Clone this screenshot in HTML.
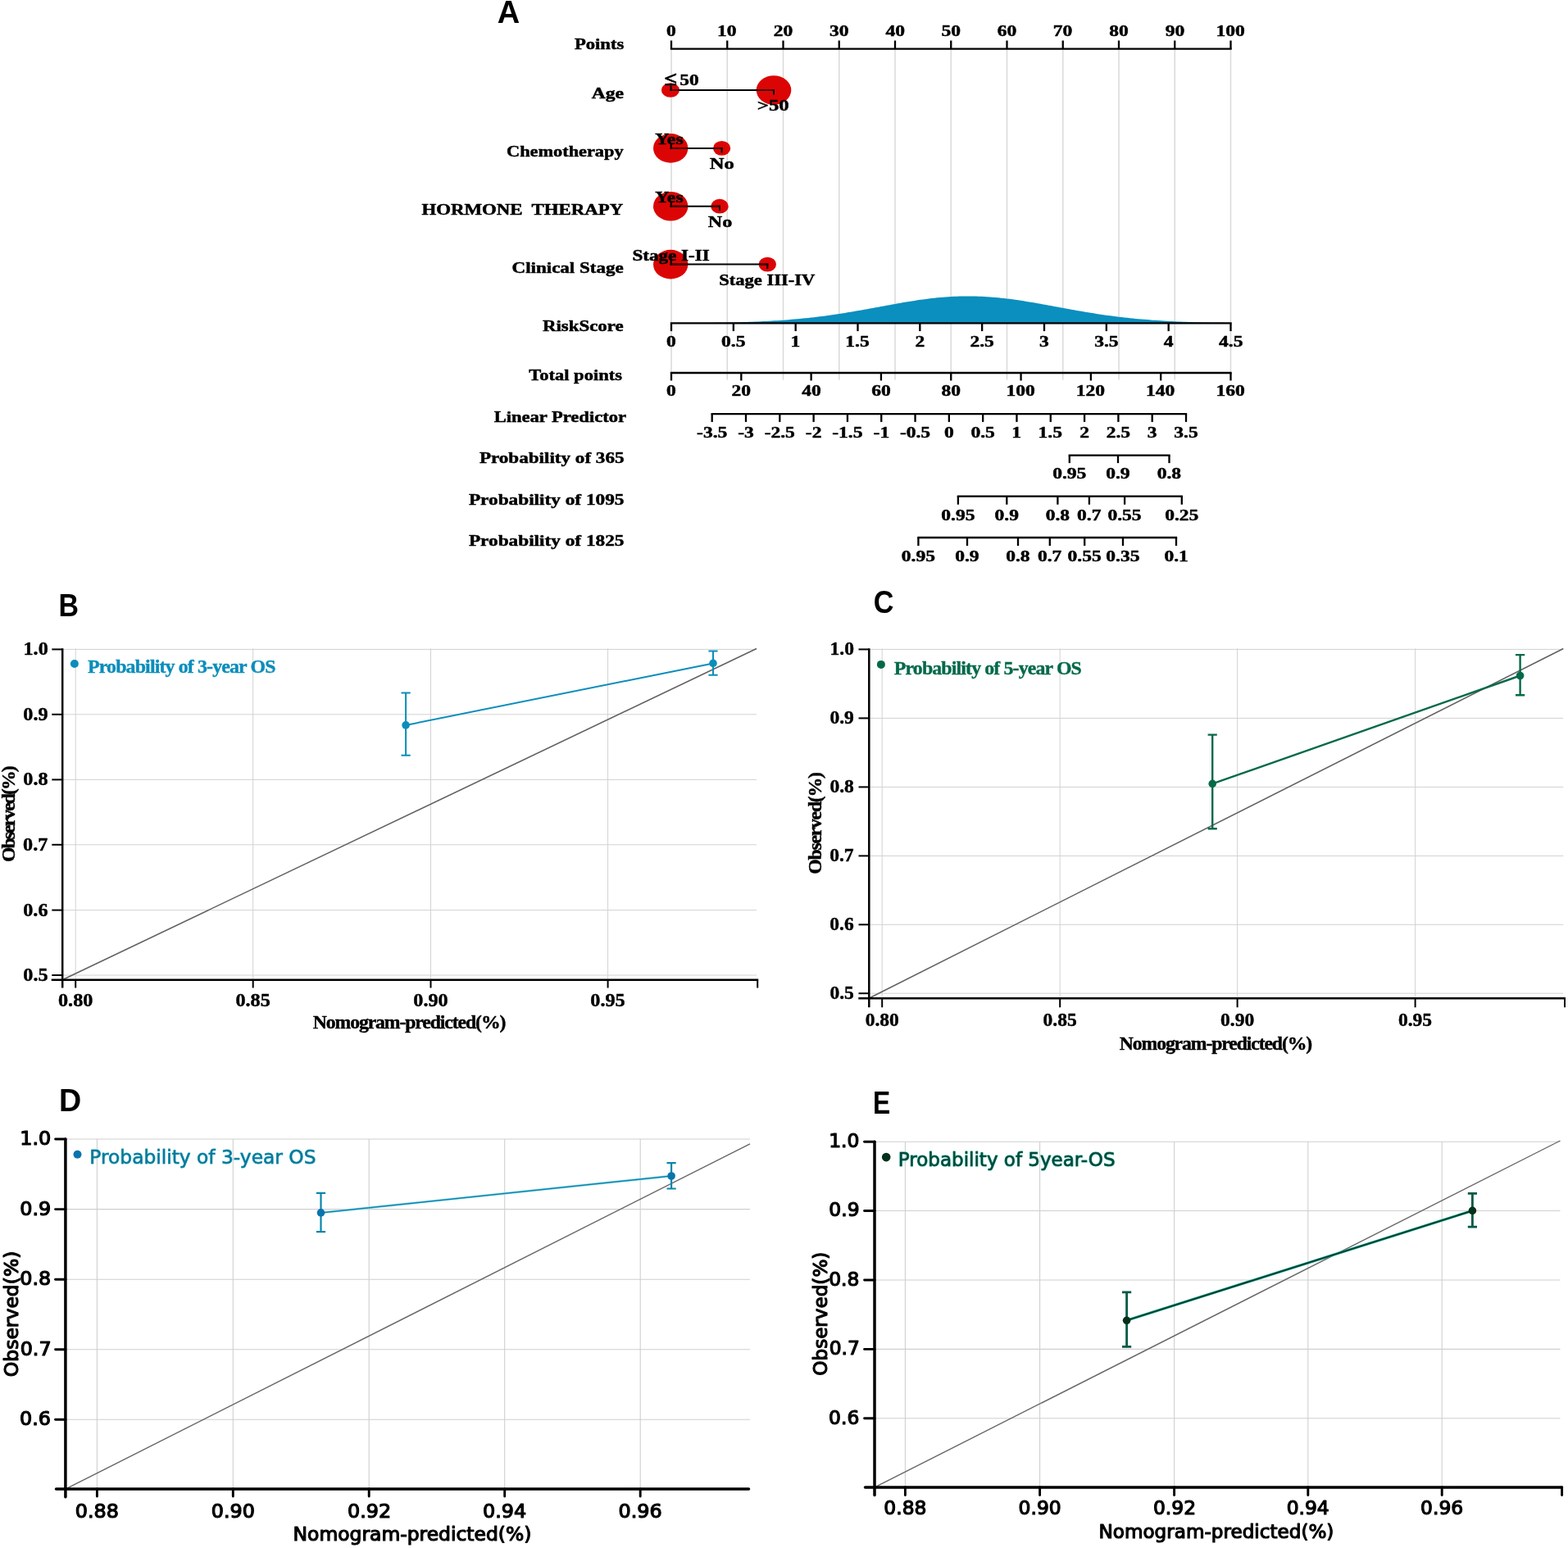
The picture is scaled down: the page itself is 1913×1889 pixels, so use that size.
<!DOCTYPE html>
<html lang="en">
<head>
<meta charset="utf-8">
<title>Nomogram and calibration curves</title>
<style>
html,body{margin:0;padding:0;background:#fff;}
body{width:1913px;height:1889px;overflow:hidden;}
svg{display:block;}
text{white-space:pre;}
</style>
</head>
<body>
<svg width="1913" height="1889" viewBox="0 0 1913 1889">
<rect width="1913" height="1889" fill="#fff"/>
<g id="panelA">
<text transform="translate(606.75,27.9) scale(0.9759,1.0000)" font-family='"Liberation Sans", sans-serif' font-weight="bold" font-size="39" fill="#000">A</text>
<line x1="819" y1="60" x2="819" y2="463.5" stroke="#d9d9d9" stroke-width="1.5"/>
<line x1="887.25" y1="60" x2="887.25" y2="463.5" stroke="#d9d9d9" stroke-width="1.5"/>
<line x1="955.5" y1="60" x2="955.5" y2="463.5" stroke="#d9d9d9" stroke-width="1.5"/>
<line x1="1023.75" y1="60" x2="1023.75" y2="463.5" stroke="#d9d9d9" stroke-width="1.5"/>
<line x1="1092" y1="60" x2="1092" y2="463.5" stroke="#d9d9d9" stroke-width="1.5"/>
<line x1="1160.25" y1="60" x2="1160.25" y2="463.5" stroke="#d9d9d9" stroke-width="1.5"/>
<line x1="1228.5" y1="60" x2="1228.5" y2="463.5" stroke="#d9d9d9" stroke-width="1.5"/>
<line x1="1296.75" y1="60" x2="1296.75" y2="463.5" stroke="#d9d9d9" stroke-width="1.5"/>
<line x1="1365" y1="60" x2="1365" y2="463.5" stroke="#d9d9d9" stroke-width="1.5"/>
<line x1="1433.25" y1="60" x2="1433.25" y2="463.5" stroke="#d9d9d9" stroke-width="1.5"/>
<line x1="1501.5" y1="60" x2="1501.5" y2="463.5" stroke="#d9d9d9" stroke-width="1.5"/>
<ellipse cx="818" cy="110" rx="11" ry="8.8" fill="#dc0505"/>
<ellipse cx="944" cy="110" rx="21.3" ry="17.8" fill="#dc0505"/>
<ellipse cx="818.2" cy="180.9" rx="21.2" ry="17.8" fill="#dc0505"/>
<ellipse cx="880.6" cy="180.9" rx="10.6" ry="8.9" fill="#dc0505"/>
<ellipse cx="818.2" cy="251.7" rx="21.2" ry="17.8" fill="#dc0505"/>
<ellipse cx="878" cy="251.7" rx="10.7" ry="8.9" fill="#dc0505"/>
<ellipse cx="818.2" cy="322.6" rx="21.2" ry="17.8" fill="#dc0505"/>
<ellipse cx="936.3" cy="322.6" rx="10.7" ry="8.9" fill="#dc0505"/>
<line x1="817.5" y1="110" x2="945" y2="110" stroke="#000" stroke-width="2"/>
<line x1="817.5" y1="110" x2="827.5" y2="110" stroke="#4a0000" stroke-width="2"/>
<line x1="924.2" y1="110" x2="945" y2="110" stroke="#4a0000" stroke-width="2"/>
<line x1="818.5" y1="104.5" x2="818.5" y2="111" stroke="#000" stroke-width="2"/>
<line x1="944" y1="109" x2="944" y2="115.5" stroke="#000" stroke-width="2"/>
<line x1="817.7" y1="180.9" x2="881.6" y2="180.9" stroke="#000" stroke-width="2"/>
<line x1="817.7" y1="180.9" x2="837.9" y2="180.9" stroke="#4a0000" stroke-width="2"/>
<line x1="871.5" y1="180.9" x2="881.6" y2="180.9" stroke="#4a0000" stroke-width="2"/>
<line x1="818.7" y1="175.4" x2="818.7" y2="181.9" stroke="#000" stroke-width="2"/>
<line x1="880.6" y1="179.9" x2="880.6" y2="186.4" stroke="#000" stroke-width="2"/>
<line x1="817.7" y1="251.7" x2="879" y2="251.7" stroke="#000" stroke-width="2"/>
<line x1="817.7" y1="251.7" x2="837.9" y2="251.7" stroke="#4a0000" stroke-width="2"/>
<line x1="868.8" y1="251.7" x2="879" y2="251.7" stroke="#4a0000" stroke-width="2"/>
<line x1="818.7" y1="246.2" x2="818.7" y2="252.7" stroke="#000" stroke-width="2"/>
<line x1="878" y1="250.7" x2="878" y2="257.2" stroke="#000" stroke-width="2"/>
<line x1="817.7" y1="322.6" x2="937.3" y2="322.6" stroke="#000" stroke-width="2"/>
<line x1="817.7" y1="322.6" x2="837.9" y2="322.6" stroke="#4a0000" stroke-width="2"/>
<line x1="927.1" y1="322.6" x2="937.3" y2="322.6" stroke="#4a0000" stroke-width="2"/>
<line x1="818.7" y1="317.1" x2="818.7" y2="323.6" stroke="#000" stroke-width="2"/>
<line x1="936.3" y1="321.6" x2="936.3" y2="328.1" stroke="#000" stroke-width="2"/>
<text transform="translate(810.52,103.6) scale(1.4373,1.2000)" font-family='"Liberation Serif", serif' font-weight="bold" font-size="19.6" fill="#000" stroke="#000" stroke-width="0.5" stroke-linejoin="round" paint-order="stroke">≤</text>
<text transform="translate(829.32,103.5) scale(1.1923,1.0000)" font-family='"Liberation Serif", serif' font-weight="bold" font-size="19.6" fill="#000" stroke="#000" stroke-width="0.5" stroke-linejoin="round" paint-order="stroke">50</text>
<text transform="translate(923.81,134.8) scale(1.2652,1.0000)" font-family='"Liberation Serif", serif' font-weight="bold" font-size="19.6" fill="#000" stroke="#000" stroke-width="0.5" stroke-linejoin="round" paint-order="stroke">&gt;50</text>
<text transform="translate(799.19,175.9) scale(1.2238,1.0000)" font-family='"Liberation Serif", serif' font-weight="bold" font-size="19.6" fill="#000" stroke="#000" stroke-width="0.5" stroke-linejoin="round" paint-order="stroke">Yes</text>
<text transform="translate(865.76,205.5) scale(1.2535,1.0000)" font-family='"Liberation Serif", serif' font-weight="bold" font-size="19.6" fill="#000" stroke="#000" stroke-width="0.5" stroke-linejoin="round" paint-order="stroke">No</text>
<text transform="translate(799.29,246.9) scale(1.2165,1.0000)" font-family='"Liberation Serif", serif' font-weight="bold" font-size="19.6" fill="#000" stroke="#000" stroke-width="0.5" stroke-linejoin="round" paint-order="stroke">Yes</text>
<text transform="translate(863.77,276.8) scale(1.2315,1.0000)" font-family='"Liberation Serif", serif' font-weight="bold" font-size="19.6" fill="#000" stroke="#000" stroke-width="0.5" stroke-linejoin="round" paint-order="stroke">No</text>
<text transform="translate(771.48,317.9) scale(1.1788,1.0000)" font-family='"Liberation Serif", serif' font-weight="bold" font-size="19.6" fill="#000" stroke="#000" stroke-width="0.5" stroke-linejoin="round" paint-order="stroke">Stage I-II</text>
<text transform="translate(877.21,348) scale(1.1507,1.0000)" font-family='"Liberation Serif", serif' font-weight="bold" font-size="19.6" fill="#000" stroke="#000" stroke-width="0.5" stroke-linejoin="round" paint-order="stroke">Stage III-IV</text>
<polygon points="819,394.28 822.41,394.27 825.83,394.25 829.24,394.24 832.65,394.22 836.06,394.2 839.48,394.18 842.89,394.15 846.3,394.13 849.71,394.1 853.12,394.07 856.54,394.04 859.95,394 863.36,393.96 866.77,393.92 870.19,393.88 873.6,393.83 877.01,393.77 880.42,393.71 883.84,393.65 887.25,393.58 890.66,393.51 894.08,393.43 897.49,393.35 900.9,393.26 904.31,393.16 907.73,393.06 911.14,392.95 914.55,392.83 917.96,392.7 921.38,392.56 924.79,392.42 928.2,392.27 931.61,392.11 935.02,391.93 938.44,391.75 941.85,391.56 945.26,391.35 948.67,391.14 952.09,390.91 955.5,390.67 958.91,390.42 962.33,390.15 965.74,389.87 969.15,389.58 972.56,389.28 975.98,388.96 979.39,388.62 982.8,388.27 986.21,387.91 989.62,387.53 993.04,387.14 996.45,386.74 999.86,386.32 1003.27,385.88 1006.69,385.43 1010.1,384.96 1013.51,384.49 1016.92,383.99 1020.34,383.49 1023.75,382.97 1027.16,382.43 1030.58,381.89 1033.99,381.33 1037.4,380.77 1040.81,380.19 1044.22,379.6 1047.64,379 1051.05,378.4 1054.46,377.79 1057.88,377.17 1061.29,376.55 1064.7,375.92 1068.11,375.29 1071.53,374.66 1074.94,374.03 1078.35,373.39 1081.76,372.76 1085.17,372.14 1088.59,371.52 1092,370.9 1095.41,370.29 1098.83,369.69 1102.24,369.11 1105.65,368.53 1109.06,367.97 1112.47,367.42 1115.89,366.88 1119.3,366.37 1122.71,365.87 1126.12,365.4 1129.54,364.94 1132.95,364.51 1136.36,364.1 1139.78,363.72 1143.19,363.36 1146.6,363.03 1150.01,362.73 1153.42,362.46 1156.84,362.22 1160.25,362 1163.66,361.82 1167.08,361.67 1170.49,361.56 1173.9,361.47 1177.31,361.42 1180.72,361.4 1184.14,361.41 1187.55,361.46 1190.96,361.54 1194.38,361.65 1197.79,361.8 1201.2,361.97 1204.61,362.18 1208.03,362.42 1211.44,362.68 1214.85,362.98 1218.26,363.31 1221.67,363.66 1225.09,364.04 1228.5,364.44 1231.91,364.87 1235.33,365.32 1238.74,365.79 1242.15,366.29 1245.56,366.8 1248.97,367.33 1252.39,367.88 1255.8,368.44 1259.21,369.01 1262.62,369.6 1266.04,370.2 1269.45,370.8 1272.86,371.42 1276.28,372.04 1279.69,372.66 1283.1,373.29 1286.51,373.92 1289.92,374.56 1293.34,375.19 1296.75,375.82 1300.16,376.45 1303.58,377.07 1306.99,377.69 1310.4,378.3 1313.81,378.91 1317.22,379.51 1320.64,380.09 1324.05,380.67 1327.46,381.24 1330.88,381.8 1334.29,382.35 1337.7,382.88 1341.11,383.4 1344.53,383.91 1347.94,384.41 1351.35,384.89 1354.76,385.36 1358.17,385.81 1361.59,386.25 1365,386.67 1368.41,387.08 1371.83,387.47 1375.24,387.85 1378.65,388.22 1382.06,388.57 1385.47,388.9 1388.89,389.22 1392.3,389.53 1395.71,389.83 1399.12,390.11 1402.54,390.37 1405.95,390.63 1409.36,390.87 1412.78,391.1 1416.19,391.32 1419.6,391.52 1423.01,391.72 1426.42,391.9 1429.84,392.08 1433.25,392.24 1436.66,392.4 1440.08,392.54 1443.49,392.68 1446.9,392.81 1450.31,392.93 1453.72,393.04 1457.14,393.14 1460.55,393.24 1463.96,393.33 1467.38,393.42 1470.79,393.5 1474.2,393.57 1477.61,393.64 1481.03,393.7 1484.44,393.76 1487.85,393.82 1491.26,393.87 1494.67,393.91 1498.09,393.96 1501.5,394 1501.5,394.4 819,394.4" fill="#0a8fbe"/>
<line x1="817.85" y1="59.7" x2="1502.65" y2="59.7" stroke="#000" stroke-width="2.3"/>
<line x1="819" y1="49.5" x2="819" y2="59.7" stroke="#000" stroke-width="2.3"/>
<line x1="887.25" y1="49.5" x2="887.25" y2="59.7" stroke="#000" stroke-width="2.3"/>
<line x1="955.5" y1="49.5" x2="955.5" y2="59.7" stroke="#000" stroke-width="2.3"/>
<line x1="1023.75" y1="49.5" x2="1023.75" y2="59.7" stroke="#000" stroke-width="2.3"/>
<line x1="1092" y1="49.5" x2="1092" y2="59.7" stroke="#000" stroke-width="2.3"/>
<line x1="1160.25" y1="49.5" x2="1160.25" y2="59.7" stroke="#000" stroke-width="2.3"/>
<line x1="1228.5" y1="49.5" x2="1228.5" y2="59.7" stroke="#000" stroke-width="2.3"/>
<line x1="1296.75" y1="49.5" x2="1296.75" y2="59.7" stroke="#000" stroke-width="2.3"/>
<line x1="1365" y1="49.5" x2="1365" y2="59.7" stroke="#000" stroke-width="2.3"/>
<line x1="1433.25" y1="49.5" x2="1433.25" y2="59.7" stroke="#000" stroke-width="2.3"/>
<line x1="1501.5" y1="49.5" x2="1501.5" y2="59.7" stroke="#000" stroke-width="2.3"/>
<text transform="translate(813.12,44.3) scale(1.2000,1.0000)" font-family='"Liberation Serif", serif' font-weight="bold" font-size="19.6" fill="#000" stroke="#000" stroke-width="0.5" stroke-linejoin="round" paint-order="stroke">0</text>
<text transform="translate(875.02,44.3) scale(1.2000,1.0000)" font-family='"Liberation Serif", serif' font-weight="bold" font-size="19.6" fill="#000" stroke="#000" stroke-width="0.5" stroke-linejoin="round" paint-order="stroke">10</text>
<text transform="translate(943.74,44.3) scale(1.2000,1.0000)" font-family='"Liberation Serif", serif' font-weight="bold" font-size="19.6" fill="#000" stroke="#000" stroke-width="0.5" stroke-linejoin="round" paint-order="stroke">20</text>
<text transform="translate(1012.05,44.3) scale(1.2000,1.0000)" font-family='"Liberation Serif", serif' font-weight="bold" font-size="19.6" fill="#000" stroke="#000" stroke-width="0.5" stroke-linejoin="round" paint-order="stroke">30</text>
<text transform="translate(1080.53,44.3) scale(1.2000,1.0000)" font-family='"Liberation Serif", serif' font-weight="bold" font-size="19.6" fill="#000" stroke="#000" stroke-width="0.5" stroke-linejoin="round" paint-order="stroke">40</text>
<text transform="translate(1148.49,44.3) scale(1.2000,1.0000)" font-family='"Liberation Serif", serif' font-weight="bold" font-size="19.6" fill="#000" stroke="#000" stroke-width="0.5" stroke-linejoin="round" paint-order="stroke">50</text>
<text transform="translate(1216.8,44.3) scale(1.2000,1.0000)" font-family='"Liberation Serif", serif' font-weight="bold" font-size="19.6" fill="#000" stroke="#000" stroke-width="0.5" stroke-linejoin="round" paint-order="stroke">60</text>
<text transform="translate(1284.81,44.3) scale(1.2000,1.0000)" font-family='"Liberation Serif", serif' font-weight="bold" font-size="19.6" fill="#000" stroke="#000" stroke-width="0.5" stroke-linejoin="round" paint-order="stroke">70</text>
<text transform="translate(1353.3,44.3) scale(1.2000,1.0000)" font-family='"Liberation Serif", serif' font-weight="bold" font-size="19.6" fill="#000" stroke="#000" stroke-width="0.5" stroke-linejoin="round" paint-order="stroke">80</text>
<text transform="translate(1421.67,44.3) scale(1.2000,1.0000)" font-family='"Liberation Serif", serif' font-weight="bold" font-size="19.6" fill="#000" stroke="#000" stroke-width="0.5" stroke-linejoin="round" paint-order="stroke">90</text>
<text transform="translate(1483.39,44.3) scale(1.2000,1.0000)" font-family='"Liberation Serif", serif' font-weight="bold" font-size="19.6" fill="#000" stroke="#000" stroke-width="0.5" stroke-linejoin="round" paint-order="stroke">100</text>
<line x1="817.85" y1="394.4" x2="1502.65" y2="394.4" stroke="#000" stroke-width="2.3"/>
<line x1="819" y1="394.4" x2="819" y2="404.1" stroke="#000" stroke-width="2.3"/>
<line x1="894.83" y1="394.4" x2="894.83" y2="404.1" stroke="#000" stroke-width="2.3"/>
<line x1="970.67" y1="394.4" x2="970.67" y2="404.1" stroke="#000" stroke-width="2.3"/>
<line x1="1046.5" y1="394.4" x2="1046.5" y2="404.1" stroke="#000" stroke-width="2.3"/>
<line x1="1122.33" y1="394.4" x2="1122.33" y2="404.1" stroke="#000" stroke-width="2.3"/>
<line x1="1198.17" y1="394.4" x2="1198.17" y2="404.1" stroke="#000" stroke-width="2.3"/>
<line x1="1274" y1="394.4" x2="1274" y2="404.1" stroke="#000" stroke-width="2.3"/>
<line x1="1349.83" y1="394.4" x2="1349.83" y2="404.1" stroke="#000" stroke-width="2.3"/>
<line x1="1425.67" y1="394.4" x2="1425.67" y2="404.1" stroke="#000" stroke-width="2.3"/>
<line x1="1501.5" y1="394.4" x2="1501.5" y2="404.1" stroke="#000" stroke-width="2.3"/>
<text transform="translate(813.12,422.5) scale(1.2000,1.0000)" font-family='"Liberation Serif", serif' font-weight="bold" font-size="19.6" fill="#000" stroke="#000" stroke-width="0.5" stroke-linejoin="round" paint-order="stroke">0</text>
<text transform="translate(880.07,422.5) scale(1.2000,1.0000)" font-family='"Liberation Serif", serif' font-weight="bold" font-size="19.6" fill="#000" stroke="#000" stroke-width="0.5" stroke-linejoin="round" paint-order="stroke">0.5</text>
<text transform="translate(964.43,422.5) scale(1.2000,1.0000)" font-family='"Liberation Serif", serif' font-weight="bold" font-size="19.6" fill="#000" stroke="#000" stroke-width="0.5" stroke-linejoin="round" paint-order="stroke">1</text>
<text transform="translate(1031.27,422.5) scale(1.2000,1.0000)" font-family='"Liberation Serif", serif' font-weight="bold" font-size="19.6" fill="#000" stroke="#000" stroke-width="0.5" stroke-linejoin="round" paint-order="stroke">1.5</text>
<text transform="translate(1116.45,422.5) scale(1.2000,1.0000)" font-family='"Liberation Serif", serif' font-weight="bold" font-size="19.6" fill="#000" stroke="#000" stroke-width="0.5" stroke-linejoin="round" paint-order="stroke">2</text>
<text transform="translate(1183.41,422.5) scale(1.2000,1.0000)" font-family='"Liberation Serif", serif' font-weight="bold" font-size="19.6" fill="#000" stroke="#000" stroke-width="0.5" stroke-linejoin="round" paint-order="stroke">2.5</text>
<text transform="translate(1268.12,422.5) scale(1.2000,1.0000)" font-family='"Liberation Serif", serif' font-weight="bold" font-size="19.6" fill="#000" stroke="#000" stroke-width="0.5" stroke-linejoin="round" paint-order="stroke">3</text>
<text transform="translate(1335.13,422.5) scale(1.2000,1.0000)" font-family='"Liberation Serif", serif' font-weight="bold" font-size="19.6" fill="#000" stroke="#000" stroke-width="0.5" stroke-linejoin="round" paint-order="stroke">3.5</text>
<text transform="translate(1419.85,422.5) scale(1.2000,1.0000)" font-family='"Liberation Serif", serif' font-weight="bold" font-size="19.6" fill="#000" stroke="#000" stroke-width="0.5" stroke-linejoin="round" paint-order="stroke">4</text>
<text transform="translate(1487.04,422.5) scale(1.2000,1.0000)" font-family='"Liberation Serif", serif' font-weight="bold" font-size="19.6" fill="#000" stroke="#000" stroke-width="0.5" stroke-linejoin="round" paint-order="stroke">4.5</text>
<line x1="817.85" y1="455" x2="1502.65" y2="455" stroke="#000" stroke-width="2.3"/>
<line x1="819" y1="455" x2="819" y2="464.4" stroke="#000" stroke-width="2.3"/>
<line x1="904.31" y1="455" x2="904.31" y2="464.4" stroke="#000" stroke-width="2.3"/>
<line x1="989.62" y1="455" x2="989.62" y2="464.4" stroke="#000" stroke-width="2.3"/>
<line x1="1074.94" y1="455" x2="1074.94" y2="464.4" stroke="#000" stroke-width="2.3"/>
<line x1="1160.25" y1="455" x2="1160.25" y2="464.4" stroke="#000" stroke-width="2.3"/>
<line x1="1245.56" y1="455" x2="1245.56" y2="464.4" stroke="#000" stroke-width="2.3"/>
<line x1="1330.88" y1="455" x2="1330.88" y2="464.4" stroke="#000" stroke-width="2.3"/>
<line x1="1416.19" y1="455" x2="1416.19" y2="464.4" stroke="#000" stroke-width="2.3"/>
<line x1="1501.5" y1="455" x2="1501.5" y2="464.4" stroke="#000" stroke-width="2.3"/>
<text transform="translate(813.12,483.2) scale(1.2000,1.0000)" font-family='"Liberation Serif", serif' font-weight="bold" font-size="19.6" fill="#000" stroke="#000" stroke-width="0.5" stroke-linejoin="round" paint-order="stroke">0</text>
<text transform="translate(892.55,483.2) scale(1.2000,1.0000)" font-family='"Liberation Serif", serif' font-weight="bold" font-size="19.6" fill="#000" stroke="#000" stroke-width="0.5" stroke-linejoin="round" paint-order="stroke">20</text>
<text transform="translate(978.16,483.2) scale(1.2000,1.0000)" font-family='"Liberation Serif", serif' font-weight="bold" font-size="19.6" fill="#000" stroke="#000" stroke-width="0.5" stroke-linejoin="round" paint-order="stroke">40</text>
<text transform="translate(1063.24,483.2) scale(1.2000,1.0000)" font-family='"Liberation Serif", serif' font-weight="bold" font-size="19.6" fill="#000" stroke="#000" stroke-width="0.5" stroke-linejoin="round" paint-order="stroke">60</text>
<text transform="translate(1148.55,483.2) scale(1.2000,1.0000)" font-family='"Liberation Serif", serif' font-weight="bold" font-size="19.6" fill="#000" stroke="#000" stroke-width="0.5" stroke-linejoin="round" paint-order="stroke">80</text>
<text transform="translate(1227.45,483.2) scale(1.2000,1.0000)" font-family='"Liberation Serif", serif' font-weight="bold" font-size="19.6" fill="#000" stroke="#000" stroke-width="0.5" stroke-linejoin="round" paint-order="stroke">100</text>
<text transform="translate(1312.76,483.2) scale(1.2000,1.0000)" font-family='"Liberation Serif", serif' font-weight="bold" font-size="19.6" fill="#000" stroke="#000" stroke-width="0.5" stroke-linejoin="round" paint-order="stroke">120</text>
<text transform="translate(1398.08,483.2) scale(1.2000,1.0000)" font-family='"Liberation Serif", serif' font-weight="bold" font-size="19.6" fill="#000" stroke="#000" stroke-width="0.5" stroke-linejoin="round" paint-order="stroke">140</text>
<text transform="translate(1483.39,483.2) scale(1.2000,1.0000)" font-family='"Liberation Serif", serif' font-weight="bold" font-size="19.6" fill="#000" stroke="#000" stroke-width="0.5" stroke-linejoin="round" paint-order="stroke">160</text>
<line x1="867.55" y1="505.2" x2="1448.15" y2="505.2" stroke="#000" stroke-width="2.3"/>
<line x1="868.7" y1="505.2" x2="868.7" y2="514.9" stroke="#000" stroke-width="2.3"/>
<line x1="910.01" y1="505.2" x2="910.01" y2="514.9" stroke="#000" stroke-width="2.3"/>
<line x1="951.31" y1="505.2" x2="951.31" y2="514.9" stroke="#000" stroke-width="2.3"/>
<line x1="992.62" y1="505.2" x2="992.62" y2="514.9" stroke="#000" stroke-width="2.3"/>
<line x1="1033.93" y1="505.2" x2="1033.93" y2="514.9" stroke="#000" stroke-width="2.3"/>
<line x1="1075.24" y1="505.2" x2="1075.24" y2="514.9" stroke="#000" stroke-width="2.3"/>
<line x1="1116.54" y1="505.2" x2="1116.54" y2="514.9" stroke="#000" stroke-width="2.3"/>
<line x1="1157.85" y1="505.2" x2="1157.85" y2="514.9" stroke="#000" stroke-width="2.3"/>
<line x1="1199.16" y1="505.2" x2="1199.16" y2="514.9" stroke="#000" stroke-width="2.3"/>
<line x1="1240.46" y1="505.2" x2="1240.46" y2="514.9" stroke="#000" stroke-width="2.3"/>
<line x1="1281.77" y1="505.2" x2="1281.77" y2="514.9" stroke="#000" stroke-width="2.3"/>
<line x1="1323.08" y1="505.2" x2="1323.08" y2="514.9" stroke="#000" stroke-width="2.3"/>
<line x1="1364.39" y1="505.2" x2="1364.39" y2="514.9" stroke="#000" stroke-width="2.3"/>
<line x1="1405.69" y1="505.2" x2="1405.69" y2="514.9" stroke="#000" stroke-width="2.3"/>
<line x1="1447" y1="505.2" x2="1447" y2="514.9" stroke="#000" stroke-width="2.3"/>
<text transform="translate(850.06,534.3) scale(1.2000,1.0000)" font-family='"Liberation Serif", serif' font-weight="bold" font-size="19.6" fill="#000" stroke="#000" stroke-width="0.5" stroke-linejoin="round" paint-order="stroke">-3.5</text>
<text transform="translate(900.19,534.3) scale(1.2000,1.0000)" font-family='"Liberation Serif", serif' font-weight="bold" font-size="19.6" fill="#000" stroke="#000" stroke-width="0.5" stroke-linejoin="round" paint-order="stroke">-3</text>
<text transform="translate(932.67,534.3) scale(1.2000,1.0000)" font-family='"Liberation Serif", serif' font-weight="bold" font-size="19.6" fill="#000" stroke="#000" stroke-width="0.5" stroke-linejoin="round" paint-order="stroke">-2.5</text>
<text transform="translate(982.86,534.3) scale(1.2000,1.0000)" font-family='"Liberation Serif", serif' font-weight="bold" font-size="19.6" fill="#000" stroke="#000" stroke-width="0.5" stroke-linejoin="round" paint-order="stroke">-2</text>
<text transform="translate(1015.29,534.3) scale(1.2000,1.0000)" font-family='"Liberation Serif", serif' font-weight="bold" font-size="19.6" fill="#000" stroke="#000" stroke-width="0.5" stroke-linejoin="round" paint-order="stroke">-1.5</text>
<text transform="translate(1065.59,534.3) scale(1.2000,1.0000)" font-family='"Liberation Serif", serif' font-weight="bold" font-size="19.6" fill="#000" stroke="#000" stroke-width="0.5" stroke-linejoin="round" paint-order="stroke">-1</text>
<text transform="translate(1097.9,534.3) scale(1.2000,1.0000)" font-family='"Liberation Serif", serif' font-weight="bold" font-size="19.6" fill="#000" stroke="#000" stroke-width="0.5" stroke-linejoin="round" paint-order="stroke">-0.5</text>
<text transform="translate(1151.97,534.3) scale(1.2000,1.0000)" font-family='"Liberation Serif", serif' font-weight="bold" font-size="19.6" fill="#000" stroke="#000" stroke-width="0.5" stroke-linejoin="round" paint-order="stroke">0</text>
<text transform="translate(1184.4,534.3) scale(1.2000,1.0000)" font-family='"Liberation Serif", serif' font-weight="bold" font-size="19.6" fill="#000" stroke="#000" stroke-width="0.5" stroke-linejoin="round" paint-order="stroke">0.5</text>
<text transform="translate(1234.23,534.3) scale(1.2000,1.0000)" font-family='"Liberation Serif", serif' font-weight="bold" font-size="19.6" fill="#000" stroke="#000" stroke-width="0.5" stroke-linejoin="round" paint-order="stroke">1</text>
<text transform="translate(1266.54,534.3) scale(1.2000,1.0000)" font-family='"Liberation Serif", serif' font-weight="bold" font-size="19.6" fill="#000" stroke="#000" stroke-width="0.5" stroke-linejoin="round" paint-order="stroke">1.5</text>
<text transform="translate(1317.2,534.3) scale(1.2000,1.0000)" font-family='"Liberation Serif", serif' font-weight="bold" font-size="19.6" fill="#000" stroke="#000" stroke-width="0.5" stroke-linejoin="round" paint-order="stroke">2</text>
<text transform="translate(1349.63,534.3) scale(1.2000,1.0000)" font-family='"Liberation Serif", serif' font-weight="bold" font-size="19.6" fill="#000" stroke="#000" stroke-width="0.5" stroke-linejoin="round" paint-order="stroke">2.5</text>
<text transform="translate(1399.81,534.3) scale(1.2000,1.0000)" font-family='"Liberation Serif", serif' font-weight="bold" font-size="19.6" fill="#000" stroke="#000" stroke-width="0.5" stroke-linejoin="round" paint-order="stroke">3</text>
<text transform="translate(1432.3,534.3) scale(1.2000,1.0000)" font-family='"Liberation Serif", serif' font-weight="bold" font-size="19.6" fill="#000" stroke="#000" stroke-width="0.5" stroke-linejoin="round" paint-order="stroke">3.5</text>
<line x1="1303.65" y1="555.7" x2="1427.65" y2="555.7" stroke="#000" stroke-width="2.3"/>
<line x1="1304.8" y1="555.7" x2="1304.8" y2="565.1" stroke="#000" stroke-width="2.3"/>
<line x1="1364" y1="555.7" x2="1364" y2="565.1" stroke="#000" stroke-width="2.3"/>
<line x1="1426.5" y1="555.7" x2="1426.5" y2="565.1" stroke="#000" stroke-width="2.3"/>
<text transform="translate(1284.16,584.4) scale(1.2000,1.0000)" font-family='"Liberation Serif", serif' font-weight="bold" font-size="19.6" fill="#000" stroke="#000" stroke-width="0.5" stroke-linejoin="round" paint-order="stroke">0.95</text>
<text transform="translate(1349.24,584.4) scale(1.2000,1.0000)" font-family='"Liberation Serif", serif' font-weight="bold" font-size="19.6" fill="#000" stroke="#000" stroke-width="0.5" stroke-linejoin="round" paint-order="stroke">0.9</text>
<text transform="translate(1411.74,584.4) scale(1.2000,1.0000)" font-family='"Liberation Serif", serif' font-weight="bold" font-size="19.6" fill="#000" stroke="#000" stroke-width="0.5" stroke-linejoin="round" paint-order="stroke">0.8</text>
<line x1="1167.75" y1="605.7" x2="1442.95" y2="605.7" stroke="#000" stroke-width="2.3"/>
<line x1="1168.9" y1="605.7" x2="1168.9" y2="615.7" stroke="#000" stroke-width="2.3"/>
<line x1="1228.3" y1="605.7" x2="1228.3" y2="615.7" stroke="#000" stroke-width="2.3"/>
<line x1="1290.4" y1="605.7" x2="1290.4" y2="615.7" stroke="#000" stroke-width="2.3"/>
<line x1="1328.9" y1="605.7" x2="1328.9" y2="615.7" stroke="#000" stroke-width="2.3"/>
<line x1="1372.1" y1="605.7" x2="1372.1" y2="615.7" stroke="#000" stroke-width="2.3"/>
<line x1="1441.8" y1="605.7" x2="1441.8" y2="615.7" stroke="#000" stroke-width="2.3"/>
<text transform="translate(1148.26,634.5) scale(1.2000,1.0000)" font-family='"Liberation Serif", serif' font-weight="bold" font-size="19.6" fill="#000" stroke="#000" stroke-width="0.5" stroke-linejoin="round" paint-order="stroke">0.95</text>
<text transform="translate(1213.54,634.5) scale(1.2000,1.0000)" font-family='"Liberation Serif", serif' font-weight="bold" font-size="19.6" fill="#000" stroke="#000" stroke-width="0.5" stroke-linejoin="round" paint-order="stroke">0.9</text>
<text transform="translate(1275.64,634.5) scale(1.2000,1.0000)" font-family='"Liberation Serif", serif' font-weight="bold" font-size="19.6" fill="#000" stroke="#000" stroke-width="0.5" stroke-linejoin="round" paint-order="stroke">0.8</text>
<text transform="translate(1314.02,634.5) scale(1.2000,1.0000)" font-family='"Liberation Serif", serif' font-weight="bold" font-size="19.6" fill="#000" stroke="#000" stroke-width="0.5" stroke-linejoin="round" paint-order="stroke">0.7</text>
<text transform="translate(1351.46,634.5) scale(1.2000,1.0000)" font-family='"Liberation Serif", serif' font-weight="bold" font-size="19.6" fill="#000" stroke="#000" stroke-width="0.5" stroke-linejoin="round" paint-order="stroke">0.55</text>
<text transform="translate(1421.16,634.5) scale(1.2000,1.0000)" font-family='"Liberation Serif", serif' font-weight="bold" font-size="19.6" fill="#000" stroke="#000" stroke-width="0.5" stroke-linejoin="round" paint-order="stroke">0.25</text>
<line x1="1119.25" y1="656" x2="1436.15" y2="656" stroke="#000" stroke-width="2.3"/>
<line x1="1120.4" y1="656" x2="1120.4" y2="666" stroke="#000" stroke-width="2.3"/>
<line x1="1180" y1="656" x2="1180" y2="666" stroke="#000" stroke-width="2.3"/>
<line x1="1242" y1="656" x2="1242" y2="666" stroke="#000" stroke-width="2.3"/>
<line x1="1280.8" y1="656" x2="1280.8" y2="666" stroke="#000" stroke-width="2.3"/>
<line x1="1323.2" y1="656" x2="1323.2" y2="666" stroke="#000" stroke-width="2.3"/>
<line x1="1370" y1="656" x2="1370" y2="666" stroke="#000" stroke-width="2.3"/>
<line x1="1435" y1="656" x2="1435" y2="666" stroke="#000" stroke-width="2.3"/>
<text transform="translate(1099.76,684.8) scale(1.2000,1.0000)" font-family='"Liberation Serif", serif' font-weight="bold" font-size="19.6" fill="#000" stroke="#000" stroke-width="0.5" stroke-linejoin="round" paint-order="stroke">0.95</text>
<text transform="translate(1165.24,684.8) scale(1.2000,1.0000)" font-family='"Liberation Serif", serif' font-weight="bold" font-size="19.6" fill="#000" stroke="#000" stroke-width="0.5" stroke-linejoin="round" paint-order="stroke">0.9</text>
<text transform="translate(1227.24,684.8) scale(1.2000,1.0000)" font-family='"Liberation Serif", serif' font-weight="bold" font-size="19.6" fill="#000" stroke="#000" stroke-width="0.5" stroke-linejoin="round" paint-order="stroke">0.8</text>
<text transform="translate(1265.92,684.8) scale(1.2000,1.0000)" font-family='"Liberation Serif", serif' font-weight="bold" font-size="19.6" fill="#000" stroke="#000" stroke-width="0.5" stroke-linejoin="round" paint-order="stroke">0.7</text>
<text transform="translate(1302.56,684.8) scale(1.2000,1.0000)" font-family='"Liberation Serif", serif' font-weight="bold" font-size="19.6" fill="#000" stroke="#000" stroke-width="0.5" stroke-linejoin="round" paint-order="stroke">0.55</text>
<text transform="translate(1349.36,684.8) scale(1.2000,1.0000)" font-family='"Liberation Serif", serif' font-weight="bold" font-size="19.6" fill="#000" stroke="#000" stroke-width="0.5" stroke-linejoin="round" paint-order="stroke">0.35</text>
<text transform="translate(1420.42,684.8) scale(1.2000,1.0000)" font-family='"Liberation Serif", serif' font-weight="bold" font-size="19.6" fill="#000" stroke="#000" stroke-width="0.5" stroke-linejoin="round" paint-order="stroke">0.1</text>
<text transform="translate(700.91,60.2) scale(1.1562,1.0000)" font-family='"Liberation Serif", serif' font-weight="bold" font-size="19.6" fill="#000" stroke="#000" stroke-width="0.5" stroke-linejoin="round" paint-order="stroke">Points</text>
<text transform="translate(721.81,120.4) scale(1.2020,1.0000)" font-family='"Liberation Serif", serif' font-weight="bold" font-size="19.6" fill="#000" stroke="#000" stroke-width="0.5" stroke-linejoin="round" paint-order="stroke">Age</text>
<text transform="translate(618.03,190.7) scale(1.1389,1.0000)" font-family='"Liberation Serif", serif' font-weight="bold" font-size="19.6" fill="#000" stroke="#000" stroke-width="0.5" stroke-linejoin="round" paint-order="stroke">Chemotherapy</text>
<text transform="translate(514.41,262) scale(1.1669,1.0000)" font-family='"Liberation Serif", serif' font-weight="bold" font-size="19.6" fill="#000" stroke="#000" stroke-width="0.5" stroke-linejoin="round" paint-order="stroke">HORMONE  THERAPY</text>
<text transform="translate(624.6,333.2) scale(1.1732,1.0000)" font-family='"Liberation Serif", serif' font-weight="bold" font-size="19.6" fill="#000" stroke="#000" stroke-width="0.5" stroke-linejoin="round" paint-order="stroke">Clinical Stage</text>
<text transform="translate(661.91,403.5) scale(1.1684,1.0000)" font-family='"Liberation Serif", serif' font-weight="bold" font-size="19.6" fill="#000" stroke="#000" stroke-width="0.5" stroke-linejoin="round" paint-order="stroke">RiskScore</text>
<text transform="translate(645.31,463.5) scale(1.1487,1.0000)" font-family='"Liberation Serif", serif' font-weight="bold" font-size="19.6" fill="#000" stroke="#000" stroke-width="0.5" stroke-linejoin="round" paint-order="stroke">Total points</text>
<text transform="translate(602.71,515.1) scale(1.1501,1.0000)" font-family='"Liberation Serif", serif' font-weight="bold" font-size="19.6" fill="#000" stroke="#000" stroke-width="0.5" stroke-linejoin="round" paint-order="stroke">Linear Predictor</text>
<text transform="translate(584.9,564.7) scale(1.1788,1.0000)" font-family='"Liberation Serif", serif' font-weight="bold" font-size="19.6" fill="#000" stroke="#000" stroke-width="0.5" stroke-linejoin="round" paint-order="stroke">Probability of 365</text>
<text transform="translate(571.9,615.5) scale(1.1873,1.0000)" font-family='"Liberation Serif", serif' font-weight="bold" font-size="19.6" fill="#000" stroke="#000" stroke-width="0.5" stroke-linejoin="round" paint-order="stroke">Probability of 1095</text>
<text transform="translate(571.9,665.7) scale(1.1873,1.0000)" font-family='"Liberation Serif", serif' font-weight="bold" font-size="19.6" fill="#000" stroke="#000" stroke-width="0.5" stroke-linejoin="round" paint-order="stroke">Probability of 1825</text>
</g>
<g id="panelB">
<text transform="translate(71.39,751.8) scale(0.8701,1.0000)" font-family='"Liberation Sans", sans-serif' font-weight="bold" font-size="39" fill="#000">B</text>
<line x1="76.2" y1="792.4" x2="923" y2="792.4" stroke="#d2d2d2" stroke-width="1"/>
<line x1="76.2" y1="871.8" x2="923" y2="871.8" stroke="#d2d2d2" stroke-width="1"/>
<line x1="76.2" y1="951.4" x2="923" y2="951.4" stroke="#d2d2d2" stroke-width="1"/>
<line x1="76.2" y1="1030.8" x2="923" y2="1030.8" stroke="#d2d2d2" stroke-width="1"/>
<line x1="76.2" y1="1110.6" x2="923" y2="1110.6" stroke="#d2d2d2" stroke-width="1"/>
<line x1="76.2" y1="1190" x2="923" y2="1190" stroke="#d2d2d2" stroke-width="1"/>
<line x1="92.2" y1="791.3" x2="92.2" y2="1195.8" stroke="#d2d2d2" stroke-width="1"/>
<line x1="308.7" y1="791.3" x2="308.7" y2="1195.8" stroke="#d2d2d2" stroke-width="1"/>
<line x1="525.5" y1="791.3" x2="525.5" y2="1195.8" stroke="#d2d2d2" stroke-width="1"/>
<line x1="741.6" y1="791.3" x2="741.6" y2="1195.8" stroke="#d2d2d2" stroke-width="1"/>
<line x1="76.5" y1="1195.5" x2="923" y2="791.5" stroke="#606060" stroke-width="1.5"/>
<line x1="76.2" y1="791.3" x2="76.2" y2="1205.5" stroke="#000" stroke-width="2.5"/>
<line x1="62.7" y1="1195.8" x2="925.2" y2="1195.8" stroke="#000" stroke-width="2.5"/>
<line x1="63.3" y1="792.4" x2="76.2" y2="792.4" stroke="#000" stroke-width="2"/>
<line x1="63.3" y1="871.8" x2="76.2" y2="871.8" stroke="#000" stroke-width="2"/>
<line x1="63.3" y1="951.4" x2="76.2" y2="951.4" stroke="#000" stroke-width="2"/>
<line x1="63.3" y1="1030.8" x2="76.2" y2="1030.8" stroke="#000" stroke-width="2"/>
<line x1="63.3" y1="1110.6" x2="76.2" y2="1110.6" stroke="#000" stroke-width="2"/>
<line x1="63.3" y1="1190" x2="76.2" y2="1190" stroke="#000" stroke-width="2"/>
<line x1="92.2" y1="1195.8" x2="92.2" y2="1205.5" stroke="#000" stroke-width="2"/>
<line x1="308.7" y1="1195.8" x2="308.7" y2="1205.5" stroke="#000" stroke-width="2"/>
<line x1="525.5" y1="1195.8" x2="525.5" y2="1205.5" stroke="#000" stroke-width="2"/>
<line x1="741.6" y1="1195.8" x2="741.6" y2="1205.5" stroke="#000" stroke-width="2"/>
<line x1="924.2" y1="1195.8" x2="924.2" y2="1205.5" stroke="#000" stroke-width="2"/>
<text transform="translate(28.49,799.4) scale(1.0300,1.0000)" font-family='"Liberation Serif", serif' font-weight="bold" font-size="23.5" fill="#000" stroke="#000" stroke-width="0.45" stroke-linejoin="round" paint-order="stroke">1.0</text>
<text transform="translate(28.37,878.8) scale(1.0300,1.0000)" font-family='"Liberation Serif", serif' font-weight="bold" font-size="23.5" fill="#000" stroke="#000" stroke-width="0.45" stroke-linejoin="round" paint-order="stroke">0.9</text>
<text transform="translate(28.37,958.4) scale(1.0300,1.0000)" font-family='"Liberation Serif", serif' font-weight="bold" font-size="23.5" fill="#000" stroke="#000" stroke-width="0.45" stroke-linejoin="round" paint-order="stroke">0.8</text>
<text transform="translate(28.12,1037.8) scale(1.0300,1.0000)" font-family='"Liberation Serif", serif' font-weight="bold" font-size="23.5" fill="#000" stroke="#000" stroke-width="0.45" stroke-linejoin="round" paint-order="stroke">0.7</text>
<text transform="translate(28.24,1117.6) scale(1.0300,1.0000)" font-family='"Liberation Serif", serif' font-weight="bold" font-size="23.5" fill="#000" stroke="#000" stroke-width="0.45" stroke-linejoin="round" paint-order="stroke">0.6</text>
<text transform="translate(28.37,1197) scale(1.0300,1.0000)" font-family='"Liberation Serif", serif' font-weight="bold" font-size="23.5" fill="#000" stroke="#000" stroke-width="0.45" stroke-linejoin="round" paint-order="stroke">0.5</text>
<text transform="translate(71.02,1228) scale(1.0300,1.0000)" font-family='"Liberation Serif", serif' font-weight="bold" font-size="23.5" fill="#000" stroke="#000" stroke-width="0.45" stroke-linejoin="round" paint-order="stroke">0.80</text>
<text transform="translate(287.46,1228) scale(1.0300,1.0000)" font-family='"Liberation Serif", serif' font-weight="bold" font-size="23.5" fill="#000" stroke="#000" stroke-width="0.45" stroke-linejoin="round" paint-order="stroke">0.85</text>
<text transform="translate(504.32,1228) scale(1.0300,1.0000)" font-family='"Liberation Serif", serif' font-weight="bold" font-size="23.5" fill="#000" stroke="#000" stroke-width="0.45" stroke-linejoin="round" paint-order="stroke">0.90</text>
<text transform="translate(720.36,1228) scale(1.0300,1.0000)" font-family='"Liberation Serif", serif' font-weight="bold" font-size="23.5" fill="#000" stroke="#000" stroke-width="0.45" stroke-linejoin="round" paint-order="stroke">0.95</text>
<text x="381.75" y="1255.2" font-family='"Liberation Serif", serif' font-weight="bold" font-size="23.7" fill="#000" letter-spacing="-1.09" stroke="#000" stroke-width="0.45" stroke-linejoin="round" paint-order="stroke">Nomogram-predicted(%)</text>
<text transform="translate(17.8,1051.96) rotate(-90)" font-family='"Liberation Serif", serif' font-weight="bold" font-size="23.7" fill="#000" letter-spacing="-1.92" stroke="#000" stroke-width="0.45" stroke-linejoin="round" paint-order="stroke">Observed(%)</text>
<line x1="495.1" y1="884.9" x2="870" y2="809.4" stroke="#0b8dbb" stroke-width="2"/>
<path d="M489.5 845.5 H500.7 M495.1 845.5 V921.8 M489.5 921.8 H500.7" stroke="#0b8dbb" stroke-width="2" fill="none"/>
<circle cx="495.1" cy="884.9" r="4.8" fill="#0b8dbb"/>
<path d="M864.4 794.6 H875.6 M870 794.6 V823.7 M864.4 823.7 H875.6" stroke="#0b8dbb" stroke-width="2" fill="none"/>
<circle cx="870" cy="809.4" r="4.8" fill="#0b8dbb"/>
<circle cx="90.9" cy="810" r="5" fill="#0b8dbb"/>
<text x="107.04" y="820.9" font-family='"Liberation Serif", serif' font-weight="bold" font-size="23.9" fill="#0b8dbb" letter-spacing="-0.86" stroke="#0b8dbb" stroke-width="0.4" stroke-linejoin="round" paint-order="stroke">Probability of 3-year OS</text>
</g>
<g id="panelC">
<text transform="translate(1065.63,747.7) scale(0.8769,1.0000)" font-family='"Liberation Sans", sans-serif' font-weight="bold" font-size="39" fill="#000">C</text>
<line x1="1060.3" y1="792.4" x2="1907.3" y2="792.4" stroke="#d2d2d2" stroke-width="1"/>
<line x1="1060.3" y1="876.4" x2="1907.3" y2="876.4" stroke="#d2d2d2" stroke-width="1"/>
<line x1="1060.3" y1="960.4" x2="1907.3" y2="960.4" stroke="#d2d2d2" stroke-width="1"/>
<line x1="1060.3" y1="1044.4" x2="1907.3" y2="1044.4" stroke="#d2d2d2" stroke-width="1"/>
<line x1="1060.3" y1="1128.3" x2="1907.3" y2="1128.3" stroke="#d2d2d2" stroke-width="1"/>
<line x1="1060.3" y1="1212.2" x2="1907.3" y2="1212.2" stroke="#d2d2d2" stroke-width="1"/>
<line x1="1076.2" y1="791.3" x2="1076.2" y2="1218.3" stroke="#d2d2d2" stroke-width="1"/>
<line x1="1293.2" y1="791.3" x2="1293.2" y2="1218.3" stroke="#d2d2d2" stroke-width="1"/>
<line x1="1509.6" y1="791.3" x2="1509.6" y2="1218.3" stroke="#d2d2d2" stroke-width="1"/>
<line x1="1726.6" y1="791.3" x2="1726.6" y2="1218.3" stroke="#d2d2d2" stroke-width="1"/>
<line x1="1060.5" y1="1218" x2="1907.3" y2="791.5" stroke="#606060" stroke-width="1.5"/>
<line x1="1060.3" y1="791.3" x2="1060.3" y2="1229.3" stroke="#000" stroke-width="2.5"/>
<line x1="1047.3" y1="1218.3" x2="1910" y2="1218.3" stroke="#000" stroke-width="2.5"/>
<line x1="1047.5" y1="792.4" x2="1060.3" y2="792.4" stroke="#000" stroke-width="2"/>
<line x1="1047.5" y1="876.4" x2="1060.3" y2="876.4" stroke="#000" stroke-width="2"/>
<line x1="1047.5" y1="960.4" x2="1060.3" y2="960.4" stroke="#000" stroke-width="2"/>
<line x1="1047.5" y1="1044.4" x2="1060.3" y2="1044.4" stroke="#000" stroke-width="2"/>
<line x1="1047.5" y1="1128.3" x2="1060.3" y2="1128.3" stroke="#000" stroke-width="2"/>
<line x1="1047.5" y1="1212.2" x2="1060.3" y2="1212.2" stroke="#000" stroke-width="2"/>
<line x1="1076.2" y1="1218.3" x2="1076.2" y2="1229.3" stroke="#000" stroke-width="2"/>
<line x1="1293.2" y1="1218.3" x2="1293.2" y2="1229.3" stroke="#000" stroke-width="2"/>
<line x1="1509.6" y1="1218.3" x2="1509.6" y2="1229.3" stroke="#000" stroke-width="2"/>
<line x1="1726.6" y1="1218.3" x2="1726.6" y2="1229.3" stroke="#000" stroke-width="2"/>
<line x1="1909" y1="1218.3" x2="1909" y2="1229.3" stroke="#000" stroke-width="2"/>
<text transform="translate(1012.54,799.4) scale(1.0000,1.0000)" font-family='"Liberation Serif", serif' font-weight="bold" font-size="23.5" fill="#000" stroke="#000" stroke-width="0.45" stroke-linejoin="round" paint-order="stroke">1.0</text>
<text transform="translate(1012.42,883.4) scale(1.0000,1.0000)" font-family='"Liberation Serif", serif' font-weight="bold" font-size="23.5" fill="#000" stroke="#000" stroke-width="0.45" stroke-linejoin="round" paint-order="stroke">0.9</text>
<text transform="translate(1012.42,967.4) scale(1.0000,1.0000)" font-family='"Liberation Serif", serif' font-weight="bold" font-size="23.5" fill="#000" stroke="#000" stroke-width="0.45" stroke-linejoin="round" paint-order="stroke">0.8</text>
<text transform="translate(1012.19,1051.4) scale(1.0000,1.0000)" font-family='"Liberation Serif", serif' font-weight="bold" font-size="23.5" fill="#000" stroke="#000" stroke-width="0.45" stroke-linejoin="round" paint-order="stroke">0.7</text>
<text transform="translate(1012.31,1135.3) scale(1.0000,1.0000)" font-family='"Liberation Serif", serif' font-weight="bold" font-size="23.5" fill="#000" stroke="#000" stroke-width="0.45" stroke-linejoin="round" paint-order="stroke">0.6</text>
<text transform="translate(1012.42,1219.2) scale(1.0000,1.0000)" font-family='"Liberation Serif", serif' font-weight="bold" font-size="23.5" fill="#000" stroke="#000" stroke-width="0.45" stroke-linejoin="round" paint-order="stroke">0.5</text>
<text transform="translate(1055.64,1252.1) scale(1.0000,1.0000)" font-family='"Liberation Serif", serif' font-weight="bold" font-size="23.5" fill="#000" stroke="#000" stroke-width="0.45" stroke-linejoin="round" paint-order="stroke">0.80</text>
<text transform="translate(1272.58,1252.1) scale(1.0000,1.0000)" font-family='"Liberation Serif", serif' font-weight="bold" font-size="23.5" fill="#000" stroke="#000" stroke-width="0.45" stroke-linejoin="round" paint-order="stroke">0.85</text>
<text transform="translate(1489.04,1252.1) scale(1.0000,1.0000)" font-family='"Liberation Serif", serif' font-weight="bold" font-size="23.5" fill="#000" stroke="#000" stroke-width="0.45" stroke-linejoin="round" paint-order="stroke">0.90</text>
<text transform="translate(1705.98,1252.1) scale(1.0000,1.0000)" font-family='"Liberation Serif", serif' font-weight="bold" font-size="23.5" fill="#000" stroke="#000" stroke-width="0.45" stroke-linejoin="round" paint-order="stroke">0.95</text>
<text x="1365.75" y="1281.3" font-family='"Liberation Serif", serif' font-weight="bold" font-size="23.7" fill="#000" letter-spacing="-1.1" stroke="#000" stroke-width="0.45" stroke-linejoin="round" paint-order="stroke">Nomogram-predicted(%)</text>
<text transform="translate(1002,1066.76) rotate(-90)" font-family='"Liberation Serif", serif' font-weight="bold" font-size="23.7" fill="#000" letter-spacing="-1.22" stroke="#000" stroke-width="0.45" stroke-linejoin="round" paint-order="stroke">Observed(%)</text>
<line x1="1479.2" y1="956.4" x2="1854.6" y2="824.5" stroke="#04694a" stroke-width="2.4"/>
<path d="M1473.6 896.6 H1484.8 M1479.2 896.6 V1011.3 M1473.6 1011.3 H1484.8" stroke="#04694a" stroke-width="2.4" fill="none"/>
<circle cx="1479.2" cy="956.4" r="4.8" fill="#04694a"/>
<path d="M1849 799.1 H1860.2 M1854.6 799.1 V848.3 M1849 848.3 H1860.2" stroke="#04694a" stroke-width="2.4" fill="none"/>
<circle cx="1854.6" cy="824.5" r="4.8" fill="#04694a"/>
<circle cx="1074.9" cy="810.9" r="5" fill="#04694a"/>
<text x="1090.84" y="823" font-family='"Liberation Serif", serif' font-weight="bold" font-size="23.9" fill="#04694a" letter-spacing="-0.88" stroke="#04694a" stroke-width="0.4" stroke-linejoin="round" paint-order="stroke">Probability of 5-year OS</text>
</g>
<g id="panelD">
<text transform="translate(72.05,1356) scale(0.9673,1.0000)" font-family='"Liberation Sans", sans-serif' font-weight="bold" font-size="39" fill="#000">D</text>
<line x1="79.9" y1="1390" x2="915" y2="1390" stroke="#cfcfcf" stroke-width="1.1"/>
<line x1="79.9" y1="1475.6" x2="915" y2="1475.6" stroke="#cfcfcf" stroke-width="1.1"/>
<line x1="79.9" y1="1561.2" x2="915" y2="1561.2" stroke="#cfcfcf" stroke-width="1.1"/>
<line x1="79.9" y1="1646.7" x2="915" y2="1646.7" stroke="#cfcfcf" stroke-width="1.1"/>
<line x1="79.9" y1="1732.2" x2="915" y2="1732.2" stroke="#cfcfcf" stroke-width="1.1"/>
<line x1="118.4" y1="1389.9" x2="118.4" y2="1816.9" stroke="#cfcfcf" stroke-width="1.1"/>
<line x1="284.3" y1="1389.9" x2="284.3" y2="1816.9" stroke="#cfcfcf" stroke-width="1.1"/>
<line x1="450.2" y1="1389.9" x2="450.2" y2="1816.9" stroke="#cfcfcf" stroke-width="1.1"/>
<line x1="615.7" y1="1389.9" x2="615.7" y2="1816.9" stroke="#cfcfcf" stroke-width="1.1"/>
<line x1="781.2" y1="1389.9" x2="781.2" y2="1816.9" stroke="#cfcfcf" stroke-width="1.1"/>
<line x1="80.3" y1="1816.9" x2="915" y2="1395.8" stroke="#666666" stroke-width="1.4"/>
<line x1="79.9" y1="1389.9" x2="79.9" y2="1826.8" stroke="#000" stroke-width="3.5" stroke-linecap="round"/>
<line x1="68.5" y1="1816.9" x2="913.5" y2="1816.9" stroke="#000" stroke-width="3.5" stroke-linecap="round"/>
<line x1="67.6" y1="1390" x2="79.9" y2="1390" stroke="#000" stroke-width="2.9" stroke-linecap="round"/>
<line x1="67.6" y1="1475.6" x2="79.9" y2="1475.6" stroke="#000" stroke-width="2.9" stroke-linecap="round"/>
<line x1="67.6" y1="1561.2" x2="79.9" y2="1561.2" stroke="#000" stroke-width="2.9" stroke-linecap="round"/>
<line x1="67.6" y1="1646.7" x2="79.9" y2="1646.7" stroke="#000" stroke-width="2.9" stroke-linecap="round"/>
<line x1="67.6" y1="1732.2" x2="79.9" y2="1732.2" stroke="#000" stroke-width="2.9" stroke-linecap="round"/>
<line x1="118.4" y1="1816.9" x2="118.4" y2="1826" stroke="#000" stroke-width="2.9" stroke-linecap="round"/>
<line x1="284.3" y1="1816.9" x2="284.3" y2="1826" stroke="#000" stroke-width="2.9" stroke-linecap="round"/>
<line x1="450.2" y1="1816.9" x2="450.2" y2="1826" stroke="#000" stroke-width="2.9" stroke-linecap="round"/>
<line x1="615.7" y1="1816.9" x2="615.7" y2="1826" stroke="#000" stroke-width="2.9" stroke-linecap="round"/>
<line x1="781.2" y1="1816.9" x2="781.2" y2="1826" stroke="#000" stroke-width="2.9" stroke-linecap="round"/>
<text transform="translate(24.2,1396.9) scale(1.0200,1.0000)" font-family='"DejaVu Sans", "Liberation Sans", sans-serif' font-weight="normal" font-size="23.4" fill="#000" stroke="#000" stroke-width="1.2" stroke-linejoin="round" paint-order="stroke">1.0</text>
<text transform="translate(24.32,1482.5) scale(1.0200,1.0000)" font-family='"DejaVu Sans", "Liberation Sans", sans-serif' font-weight="normal" font-size="23.4" fill="#000" stroke="#000" stroke-width="1.2" stroke-linejoin="round" paint-order="stroke">0.9</text>
<text transform="translate(24.2,1568.1) scale(1.0200,1.0000)" font-family='"DejaVu Sans", "Liberation Sans", sans-serif' font-weight="normal" font-size="23.4" fill="#000" stroke="#000" stroke-width="1.2" stroke-linejoin="round" paint-order="stroke">0.8</text>
<text transform="translate(24.68,1653.6) scale(1.0200,1.0000)" font-family='"DejaVu Sans", "Liberation Sans", sans-serif' font-weight="normal" font-size="23.4" fill="#000" stroke="#000" stroke-width="1.2" stroke-linejoin="round" paint-order="stroke">0.7</text>
<text transform="translate(24.08,1739.1) scale(1.0200,1.0000)" font-family='"DejaVu Sans", "Liberation Sans", sans-serif' font-weight="normal" font-size="23.4" fill="#000" stroke="#000" stroke-width="1.2" stroke-linejoin="round" paint-order="stroke">0.6</text>
<text transform="translate(91.85,1851.6) scale(1.0200,1.0000)" font-family='"DejaVu Sans", "Liberation Sans", sans-serif' font-weight="normal" font-size="23.4" fill="#000" stroke="#000" stroke-width="1.2" stroke-linejoin="round" paint-order="stroke">0.88</text>
<text transform="translate(257.75,1851.6) scale(1.0200,1.0000)" font-family='"DejaVu Sans", "Liberation Sans", sans-serif' font-weight="normal" font-size="23.4" fill="#000" stroke="#000" stroke-width="1.2" stroke-linejoin="round" paint-order="stroke">0.90</text>
<text transform="translate(424.06,1851.6) scale(1.0200,1.0000)" font-family='"DejaVu Sans", "Liberation Sans", sans-serif' font-weight="normal" font-size="23.4" fill="#000" stroke="#000" stroke-width="1.2" stroke-linejoin="round" paint-order="stroke">0.92</text>
<text transform="translate(589.03,1851.6) scale(1.0200,1.0000)" font-family='"DejaVu Sans", "Liberation Sans", sans-serif' font-weight="normal" font-size="23.4" fill="#000" stroke="#000" stroke-width="1.2" stroke-linejoin="round" paint-order="stroke">0.94</text>
<text transform="translate(754.59,1851.6) scale(1.0200,1.0000)" font-family='"DejaVu Sans", "Liberation Sans", sans-serif' font-weight="normal" font-size="23.4" fill="#000" stroke="#000" stroke-width="1.2" stroke-linejoin="round" paint-order="stroke">0.96</text>
<text transform="translate(357.56,1880.4) scale(1.0011,1.0000)" font-family='"DejaVu Sans", "Liberation Sans", sans-serif' font-weight="normal" font-size="23.4" fill="#000" stroke="#000" stroke-width="1.2" stroke-linejoin="round" paint-order="stroke">Nomogram-predicted(%)</text>
<text transform="translate(22.4,1680.19) rotate(-90) scale(1.0036,1)" font-family='"DejaVu Sans", "Liberation Sans", sans-serif' font-weight="normal" font-size="23.4" fill="#000" stroke="#000" stroke-width="1.2" stroke-linejoin="round" paint-order="stroke">Observed(%)</text>
<line x1="391.5" y1="1479.9" x2="819.1" y2="1435" stroke="#9fe0ee" stroke-width="2.9"/>
<line x1="391.5" y1="1479.9" x2="819.1" y2="1435" stroke="#0b86ad" stroke-width="1.5"/>
<path d="M385.9 1455.8 H397.1 M391.5 1455.8 V1503.2 M385.9 1503.2 H397.1" stroke="#0b86ad" stroke-width="2.2" fill="none"/>
<circle cx="391.5" cy="1479.9" r="4.8" fill="#0a74ac"/>
<path d="M813.5 1419.2 H824.7 M819.1 1419.2 V1450.5 M813.5 1450.5 H824.7" stroke="#0b86ad" stroke-width="2.2" fill="none"/>
<circle cx="819.1" cy="1435" r="4.8" fill="#0a74ac"/>
<circle cx="94.5" cy="1408.8" r="5" fill="#0a74ac"/>
<text transform="translate(109.32,1419.7) scale(0.9848,1.0000)" font-family='"DejaVu Sans", "Liberation Sans", sans-serif' font-weight="normal" font-size="23.7" fill="#0a7898" stroke="#2aa8c6" stroke-width="0.9" stroke-linejoin="round" paint-order="stroke">Probability of 3-year OS</text>
</g>
<g id="panelE">
<text transform="translate(1064.93,1358.9) scale(0.8169,1.0000)" font-family='"Liberation Sans", sans-serif' font-weight="bold" font-size="39" fill="#000">E</text>
<line x1="1067" y1="1393.3" x2="1903.5" y2="1393.3" stroke="#cfcfcf" stroke-width="1.1"/>
<line x1="1067" y1="1477.5" x2="1903.5" y2="1477.5" stroke="#cfcfcf" stroke-width="1.1"/>
<line x1="1067" y1="1562" x2="1903.5" y2="1562" stroke="#cfcfcf" stroke-width="1.1"/>
<line x1="1067" y1="1646.4" x2="1903.5" y2="1646.4" stroke="#cfcfcf" stroke-width="1.1"/>
<line x1="1067" y1="1730.8" x2="1903.5" y2="1730.8" stroke="#cfcfcf" stroke-width="1.1"/>
<line x1="1104.4" y1="1393.2" x2="1104.4" y2="1814.9" stroke="#cfcfcf" stroke-width="1.1"/>
<line x1="1268.6" y1="1393.2" x2="1268.6" y2="1814.9" stroke="#cfcfcf" stroke-width="1.1"/>
<line x1="1432.6" y1="1393.2" x2="1432.6" y2="1814.9" stroke="#cfcfcf" stroke-width="1.1"/>
<line x1="1595.8" y1="1393.2" x2="1595.8" y2="1814.9" stroke="#cfcfcf" stroke-width="1.1"/>
<line x1="1759.2" y1="1393.2" x2="1759.2" y2="1814.9" stroke="#cfcfcf" stroke-width="1.1"/>
<line x1="1067.2" y1="1814.9" x2="1903.5" y2="1392" stroke="#666666" stroke-width="1.4"/>
<line x1="1067" y1="1393.2" x2="1067" y2="1824.5" stroke="#000" stroke-width="3.5" stroke-linecap="round"/>
<line x1="1055.5" y1="1814.9" x2="1905.5" y2="1814.9" stroke="#000" stroke-width="3.5" stroke-linecap="round"/>
<line x1="1054.6" y1="1393.3" x2="1067" y2="1393.3" stroke="#000" stroke-width="2.9" stroke-linecap="round"/>
<line x1="1054.6" y1="1477.5" x2="1067" y2="1477.5" stroke="#000" stroke-width="2.9" stroke-linecap="round"/>
<line x1="1054.6" y1="1562" x2="1067" y2="1562" stroke="#000" stroke-width="2.9" stroke-linecap="round"/>
<line x1="1054.6" y1="1646.4" x2="1067" y2="1646.4" stroke="#000" stroke-width="2.9" stroke-linecap="round"/>
<line x1="1054.6" y1="1730.8" x2="1067" y2="1730.8" stroke="#000" stroke-width="2.9" stroke-linecap="round"/>
<line x1="1104.4" y1="1814.9" x2="1104.4" y2="1824.5" stroke="#000" stroke-width="2.9" stroke-linecap="round"/>
<line x1="1268.6" y1="1814.9" x2="1268.6" y2="1824.5" stroke="#000" stroke-width="2.9" stroke-linecap="round"/>
<line x1="1432.6" y1="1814.9" x2="1432.6" y2="1824.5" stroke="#000" stroke-width="2.9" stroke-linecap="round"/>
<line x1="1595.8" y1="1814.9" x2="1595.8" y2="1824.5" stroke="#000" stroke-width="2.9" stroke-linecap="round"/>
<line x1="1759.2" y1="1814.9" x2="1759.2" y2="1824.5" stroke="#000" stroke-width="2.9" stroke-linecap="round"/>
<line x1="1905.6" y1="1814.9" x2="1905.6" y2="1824.5" stroke="#000" stroke-width="2.9" stroke-linecap="round"/>
<text transform="translate(1011.22,1400) scale(1.0000,1.0000)" font-family='"DejaVu Sans", "Liberation Sans", sans-serif' font-weight="normal" font-size="23.4" fill="#000" stroke="#000" stroke-width="1.2" stroke-linejoin="round" paint-order="stroke">1.0</text>
<text transform="translate(1011.33,1484.2) scale(1.0000,1.0000)" font-family='"DejaVu Sans", "Liberation Sans", sans-serif' font-weight="normal" font-size="23.4" fill="#000" stroke="#000" stroke-width="1.2" stroke-linejoin="round" paint-order="stroke">0.9</text>
<text transform="translate(1011.22,1568.7) scale(1.0000,1.0000)" font-family='"DejaVu Sans", "Liberation Sans", sans-serif' font-weight="normal" font-size="23.4" fill="#000" stroke="#000" stroke-width="1.2" stroke-linejoin="round" paint-order="stroke">0.8</text>
<text transform="translate(1011.68,1653.1) scale(1.0000,1.0000)" font-family='"DejaVu Sans", "Liberation Sans", sans-serif' font-weight="normal" font-size="23.4" fill="#000" stroke="#000" stroke-width="1.2" stroke-linejoin="round" paint-order="stroke">0.7</text>
<text transform="translate(1011.1,1737.5) scale(1.0000,1.0000)" font-family='"DejaVu Sans", "Liberation Sans", sans-serif' font-weight="normal" font-size="23.4" fill="#000" stroke="#000" stroke-width="1.2" stroke-linejoin="round" paint-order="stroke">0.6</text>
<text transform="translate(1078.37,1848.3) scale(1.0000,1.0000)" font-family='"DejaVu Sans", "Liberation Sans", sans-serif' font-weight="normal" font-size="23.4" fill="#000" stroke="#000" stroke-width="1.2" stroke-linejoin="round" paint-order="stroke">0.88</text>
<text transform="translate(1242.57,1848.3) scale(1.0000,1.0000)" font-family='"DejaVu Sans", "Liberation Sans", sans-serif' font-weight="normal" font-size="23.4" fill="#000" stroke="#000" stroke-width="1.2" stroke-linejoin="round" paint-order="stroke">0.90</text>
<text transform="translate(1406.98,1848.3) scale(1.0000,1.0000)" font-family='"DejaVu Sans", "Liberation Sans", sans-serif' font-weight="normal" font-size="23.4" fill="#000" stroke="#000" stroke-width="1.2" stroke-linejoin="round" paint-order="stroke">0.92</text>
<text transform="translate(1569.65,1848.3) scale(1.0000,1.0000)" font-family='"DejaVu Sans", "Liberation Sans", sans-serif' font-weight="normal" font-size="23.4" fill="#000" stroke="#000" stroke-width="1.2" stroke-linejoin="round" paint-order="stroke">0.94</text>
<text transform="translate(1733.11,1848.3) scale(1.0000,1.0000)" font-family='"DejaVu Sans", "Liberation Sans", sans-serif' font-weight="normal" font-size="23.4" fill="#000" stroke="#000" stroke-width="1.2" stroke-linejoin="round" paint-order="stroke">0.96</text>
<text transform="translate(1340.49,1876.6) scale(0.9882,1.0000)" font-family='"DejaVu Sans", "Liberation Sans", sans-serif' font-weight="normal" font-size="23.4" fill="#000" stroke="#000" stroke-width="1.2" stroke-linejoin="round" paint-order="stroke">Nomogram-predicted(%)</text>
<text transform="translate(1009,1678.67) rotate(-90) scale(0.9869,1)" font-family='"DejaVu Sans", "Liberation Sans", sans-serif' font-weight="normal" font-size="23.4" fill="#000" stroke="#000" stroke-width="1.2" stroke-linejoin="round" paint-order="stroke">Observed(%)</text>
<line x1="1374.6" y1="1611.3" x2="1796.4" y2="1477.4" stroke="#10a088" stroke-width="3.1"/>
<line x1="1374.6" y1="1611.3" x2="1796.4" y2="1477.4" stroke="#033c2e" stroke-width="1.7"/>
<path d="M1369 1576.9 H1380.2 M1374.6 1576.9 V1643.4 M1369 1643.4 H1380.2" stroke="#045a46" stroke-width="2.8" fill="none"/>
<circle cx="1374.6" cy="1611.3" r="4.8" fill="#04301c"/>
<path d="M1790.8 1456.3 H1802 M1796.4 1456.3 V1497.2 M1790.8 1497.2 H1802" stroke="#045a46" stroke-width="2.8" fill="none"/>
<circle cx="1796.4" cy="1477.4" r="4.8" fill="#04301c"/>
<circle cx="1081.2" cy="1412.1" r="5.3" fill="#04301c"/>
<text transform="translate(1095.85,1423.2) scale(0.9801,1.0000)" font-family='"DejaVu Sans", "Liberation Sans", sans-serif' font-weight="normal" font-size="23.5" fill="#02483a" stroke="#0a9078" stroke-width="1.1" stroke-linejoin="round" paint-order="stroke">Probability of 5year-OS</text>
</g>
</svg>
</body>
</html>
